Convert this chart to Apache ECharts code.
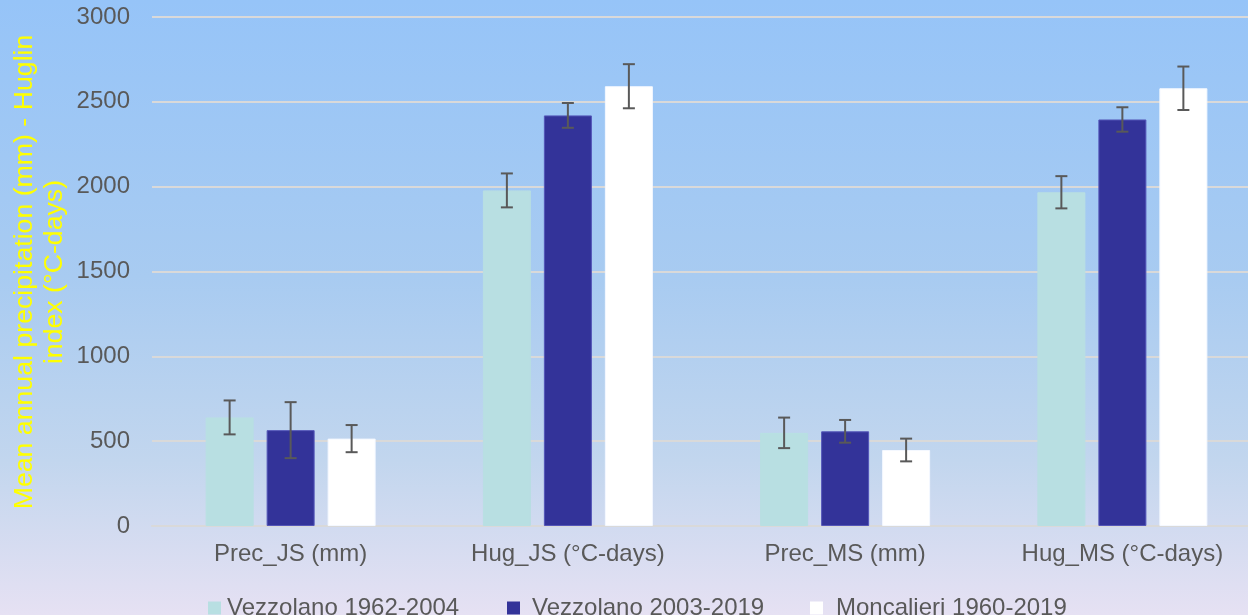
<!DOCTYPE html>
<html>
<head>
<meta charset="utf-8">
<script src="https://cdn.jsdelivr.net/npm/echarts@6/dist/echarts.min.js"></script>
<style>
html,body{margin:0;padding:0;}
#c{width:1248px;height:615px;background:linear-gradient(to bottom,#96c4f8 0%,#a8cbf1 45%,#c2d6ee 75%,#e6e1f3 100%);}
</style>
</head>
<body>
<div id="c"></div>
<script>
const categories = ['Prec_JS (mm)', 'Hug_JS (°C-days)', 'Prec_MS (mm)', 'Hug_MS (°C-days)'];
const seriesNames = ['Vezzolano 1962-2004', 'Vezzolano 2003-2019', 'Moncalieri 1960-2019'];
const vezz1 = [640, 1978, 549, 1967];
const vezz2 = [565, 2420, 558, 2396];
const monc = [515, 2592, 448, 2580];
const vezz1Err = [100, 100, 90, 95];
const vezz2Err = [165, 73, 67, 72];
const moncErr = [80, 130, 67, 128];
const yTicks = [0, 500, 1000, 1500, 2000, 2500, 3000];

const values = [vezz1, vezz2, monc];
const errs = [vezz1Err, vezz2Err, moncErr];
const colors = ['#b8dfe2', '#333399', '#ffffff'];
const borders = ['#b8dfe2', '#5456b8', '#f4f8ff'];
const BAR_W = 48, GAP = 13;
const legendLeft = [208, 507, 810];
const legendTextPad = [1, 7, 8];

const chart = echarts.init(document.getElementById('c'), null, {renderer: 'canvas'});

const series = [];
values.forEach((vals, i) => {
  series.push({
    name: seriesNames[i],
    type: 'bar',
    data: vals,
    barWidth: BAR_W,
    barGap: (GAP / BAR_W * 100) + '%',
    itemStyle: {color: colors[i], borderColor: borders[i], borderWidth: 1},
    z: 2
  });
});
values.forEach((vals, i) => {
  series.push({
    type: 'custom',
    name: seriesNames[i] + ' err',
    data: vals.map((v, k) => [k, v - errs[i][k], v + errs[i][k]]),
    z: 5,
    silent: true,
    renderItem: function (params, api) {
      const k = api.value(0);
      const lo = api.coord([k, api.value(1)]);
      const hi = api.coord([k, api.value(2)]);
      const x = lo[0] + (i - 1) * (BAR_W + GAP);
      const cap = 6;
      const st = {stroke: '#595959', lineWidth: 2};
      return {
        type: 'group',
        children: [
          {type: 'line', shape: {x1: x, y1: hi[1], x2: x, y2: lo[1]}, style: st},
          {type: 'line', shape: {x1: x - cap, y1: hi[1], x2: x + cap, y2: hi[1]}, style: st},
          {type: 'line', shape: {x1: x - cap, y1: lo[1], x2: x + cap, y2: lo[1]}, style: st}
        ]
      };
    }
  });
});

const legends = seriesNames.map((n, i) => ({
  data: [n],
  left: legendLeft[i],
  top: 596,
  padding: 0,
  itemWidth: 13,
  itemHeight: 13,
  icon: 'rect',
  textStyle: {color: '#595959', fontSize: 24, padding: [0, 0, 6, legendTextPad[i]]},
  itemStyle: {borderWidth: 0}
}));

chart.setOption({
  backgroundColor: 'transparent',
  animation: false,
  textStyle: {fontFamily: 'Liberation Sans, Arial, sans-serif'},
  grid: {left: 152, width: 1109, top: 17, bottom: 89, containLabel: false, outerBoundsMode: 'none'},
  legend: legends,
  xAxis: {
    type: 'category',
    data: categories,
    axisLine: {show: true, lineStyle: {color: '#d9d9d9', width: 2}},
    axisTick: {show: false},
    axisLabel: {color: '#595959', fontSize: 24, margin: 16}
  },
  yAxis: {
    type: 'value',
    min: yTicks[0],
    max: yTicks[yTicks.length - 1],
    interval: yTicks[1] - yTicks[0],
    axisLine: {show: false},
    axisTick: {show: false},
    axisLabel: {color: '#595959', fontSize: 24, margin: 22, formatter: v => String(v)},
    splitLine: {lineStyle: {color: '#d9d9d9', width: 2}}
  },
  graphic: [{
    type: 'text',
    x: 40,
    y: 272,
    rotation: Math.PI / 2,
    style: {
      text: 'Mean annual precipitation (mm) - Huglin\nindex (°C-days)',
      fill: '#ffff00',
      font: '26.7px "Liberation Sans", Arial, sans-serif',
      align: 'center',
      verticalAlign: 'middle',
      lineHeight: 30
    }
  }],
  series: series
});
</script>
</body>
</html>
